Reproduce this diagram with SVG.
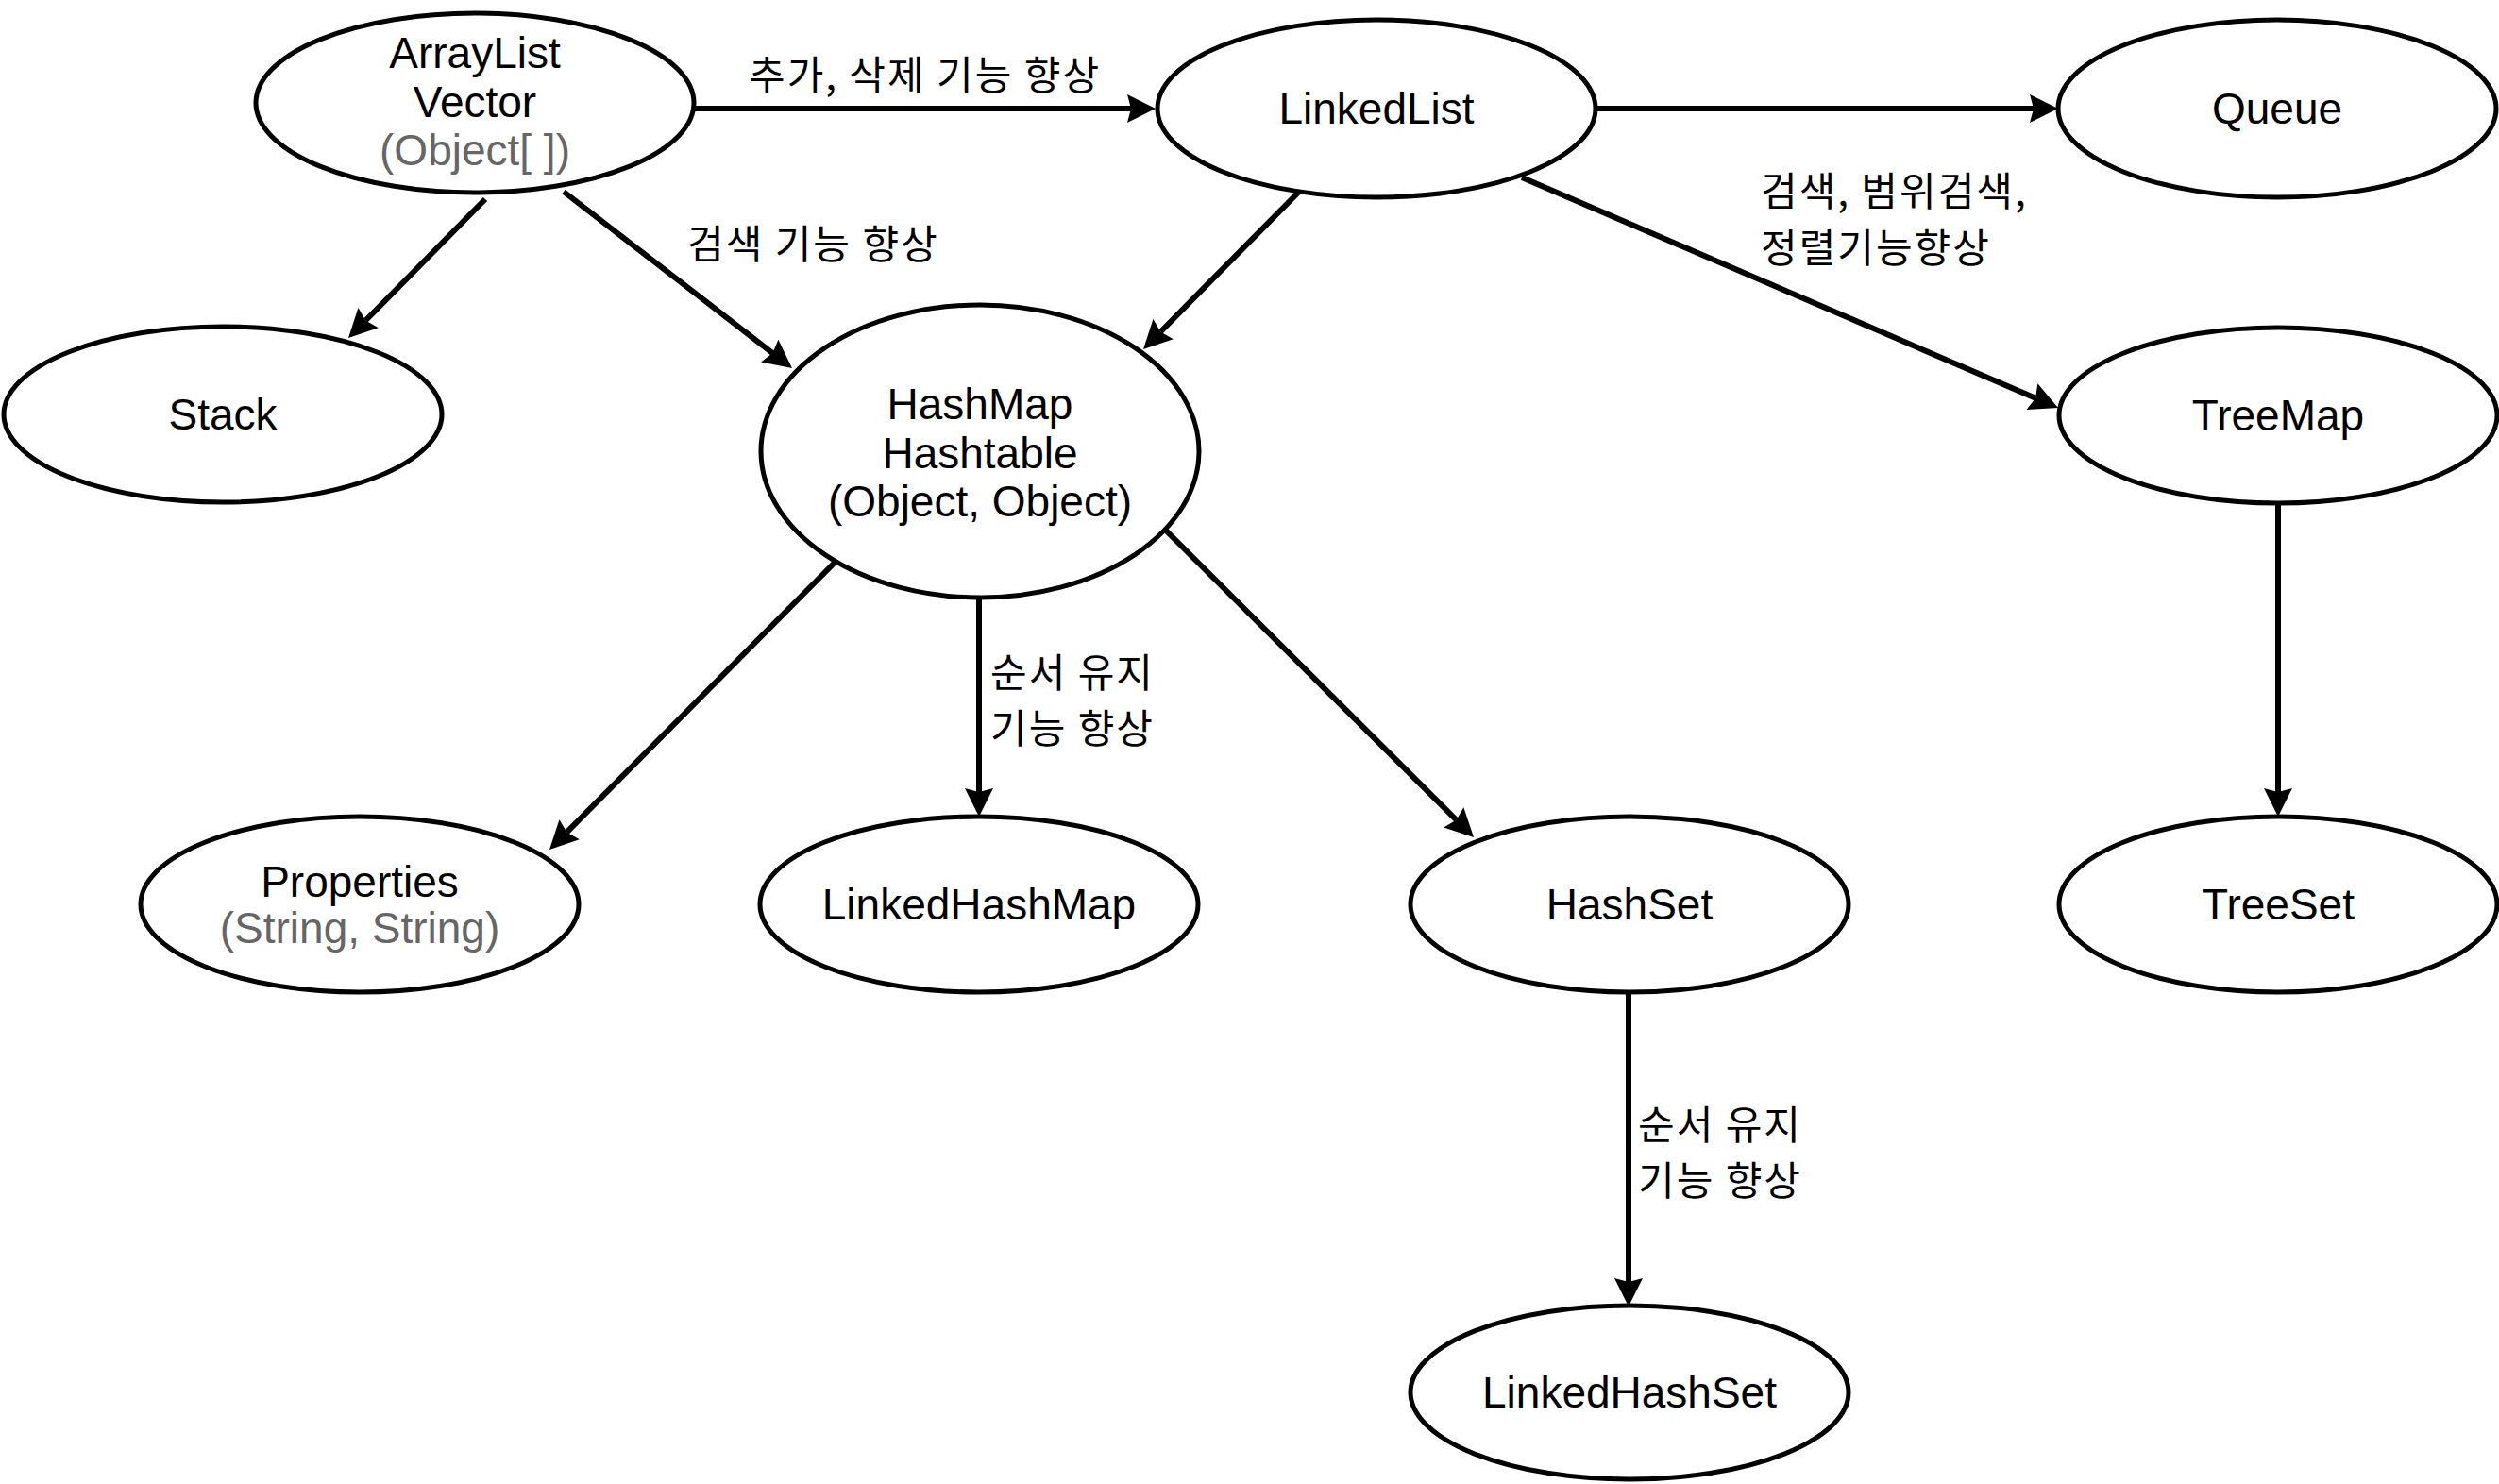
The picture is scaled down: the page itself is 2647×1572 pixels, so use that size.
<svg xmlns="http://www.w3.org/2000/svg" width="2647" height="1572" viewBox="0 0 2647 1572">
<defs>
<style>
.node ellipse{fill:#fff;stroke:#000;stroke-width:5}
.node text{font-family:"Liberation Sans",Arial,Helvetica,sans-serif;font-size:46px;fill:#000;text-anchor:middle}
.node text .sub{fill:#666}
.edge{stroke:#000;stroke-width:6;fill:none;marker-end:url(#arrow)}
.lbl{font-family:"Noto Sans CJK KR","Noto Sans",sans-serif;font-size:42px;letter-spacing:2px;fill:#000}
</style>
<marker id="arrow" markerUnits="userSpaceOnUse" markerWidth="30" markerHeight="30" refX="4" refY="15" orient="auto" overflow="visible">
<path d="M0,0 L30,15 L0,30 L4,15 Z" fill="#000"/>
</marker>
</defs>
<rect width="2647" height="1572" fill="#fff"/>

<g id="connectors">
<line class="edge" x1="736" y1="115" x2="1198" y2="115"/>
<line class="edge" x1="514" y1="211" x2="387.3" y2="339.5"/>
<line class="edge" x1="597" y1="203" x2="818.4" y2="374.1"/>
<line class="edge" x1="1378" y1="201" x2="1229.3" y2="351.5"/>
<line class="edge" x1="1612" y1="188" x2="2156.1" y2="421.7"/>
<line class="edge" x1="1692" y1="115" x2="2154" y2="115"/>
<line class="edge" x1="885" y1="595" x2="600.3" y2="881.6"/>
<line class="edge" x1="1037" y1="633" x2="1037" y2="839"/>
<line class="edge" x1="1235" y1="562" x2="1542.6" y2="868.6"/>
<line class="edge" x1="1725" y1="1052" x2="1725" y2="1358"/>
<line class="edge" x1="2413" y1="532" x2="2413" y2="839"/>
<text class="lbl" x="793" y="95">추가, 삭제 기능 향상</text>
<text class="lbl" x="728" y="274">검색 기능 향상</text>
<text class="lbl"><tspan x="1865" y="218">검색, 범위검색,</tspan><tspan x="1865" y="278">정렬기능향상</tspan></text>
<text class="lbl"><tspan x="1049" y="728">순서 유지</tspan><tspan x="1049" y="787">기능 향상</tspan></text>
<text class="lbl"><tspan x="1735" y="1207">순서 유지</tspan><tspan x="1735" y="1266">기능 향상</tspan></text>
</g>

<g id="arraylist" class="node">
<ellipse cx="503" cy="109" rx="232" ry="95"/>
<text><tspan x="503" y="72">ArrayList</tspan><tspan x="503" y="124">Vector</tspan><tspan class="sub" x="503" y="175">(Object[ ])</tspan></text>
</g>
<g id="linkedlist" class="node">
<ellipse cx="1458" cy="115" rx="232" ry="94"/>
<text x="1458" y="131">LinkedList</text>
</g>
<g id="queue" class="node">
<ellipse cx="2412" cy="115" rx="232" ry="94"/>
<text x="2412" y="131">Queue</text>
</g>
<g id="stack" class="node">
<ellipse cx="236" cy="439" rx="232" ry="93"/>
<text x="236" y="455">Stack</text>
</g>
<g id="hashmap" class="node">
<ellipse cx="1038" cy="478" rx="232" ry="155"/>
<text><tspan x="1038" y="444">HashMap</tspan><tspan x="1038" y="496">Hashtable</tspan><tspan x="1038" y="547">(Object, Object)</tspan></text>
</g>
<g id="treemap" class="node">
<ellipse cx="2413" cy="440" rx="232" ry="93"/>
<text x="2413" y="456">TreeMap</text>
</g>
<g id="properties" class="node">
<ellipse cx="381" cy="958" rx="232" ry="93"/>
<text><tspan x="381" y="950">Properties</tspan><tspan class="sub" x="381" y="999">(String, String)</tspan></text>
</g>
<g id="linkedhashmap" class="node">
<ellipse cx="1037" cy="958" rx="232" ry="93"/>
<text x="1037" y="974">LinkedHashMap</text>
</g>
<g id="hashset" class="node">
<ellipse cx="1726" cy="958" rx="232" ry="93"/>
<text x="1726" y="974">HashSet</text>
</g>
<g id="treeset" class="node">
<ellipse cx="2413" cy="958" rx="232" ry="93"/>
<text x="2413" y="974">TreeSet</text>
</g>
<g id="linkedhashset" class="node">
<ellipse cx="1726" cy="1475" rx="232" ry="92"/>
<text x="1726" y="1491">LinkedHashSet</text>
</g>
</svg>
